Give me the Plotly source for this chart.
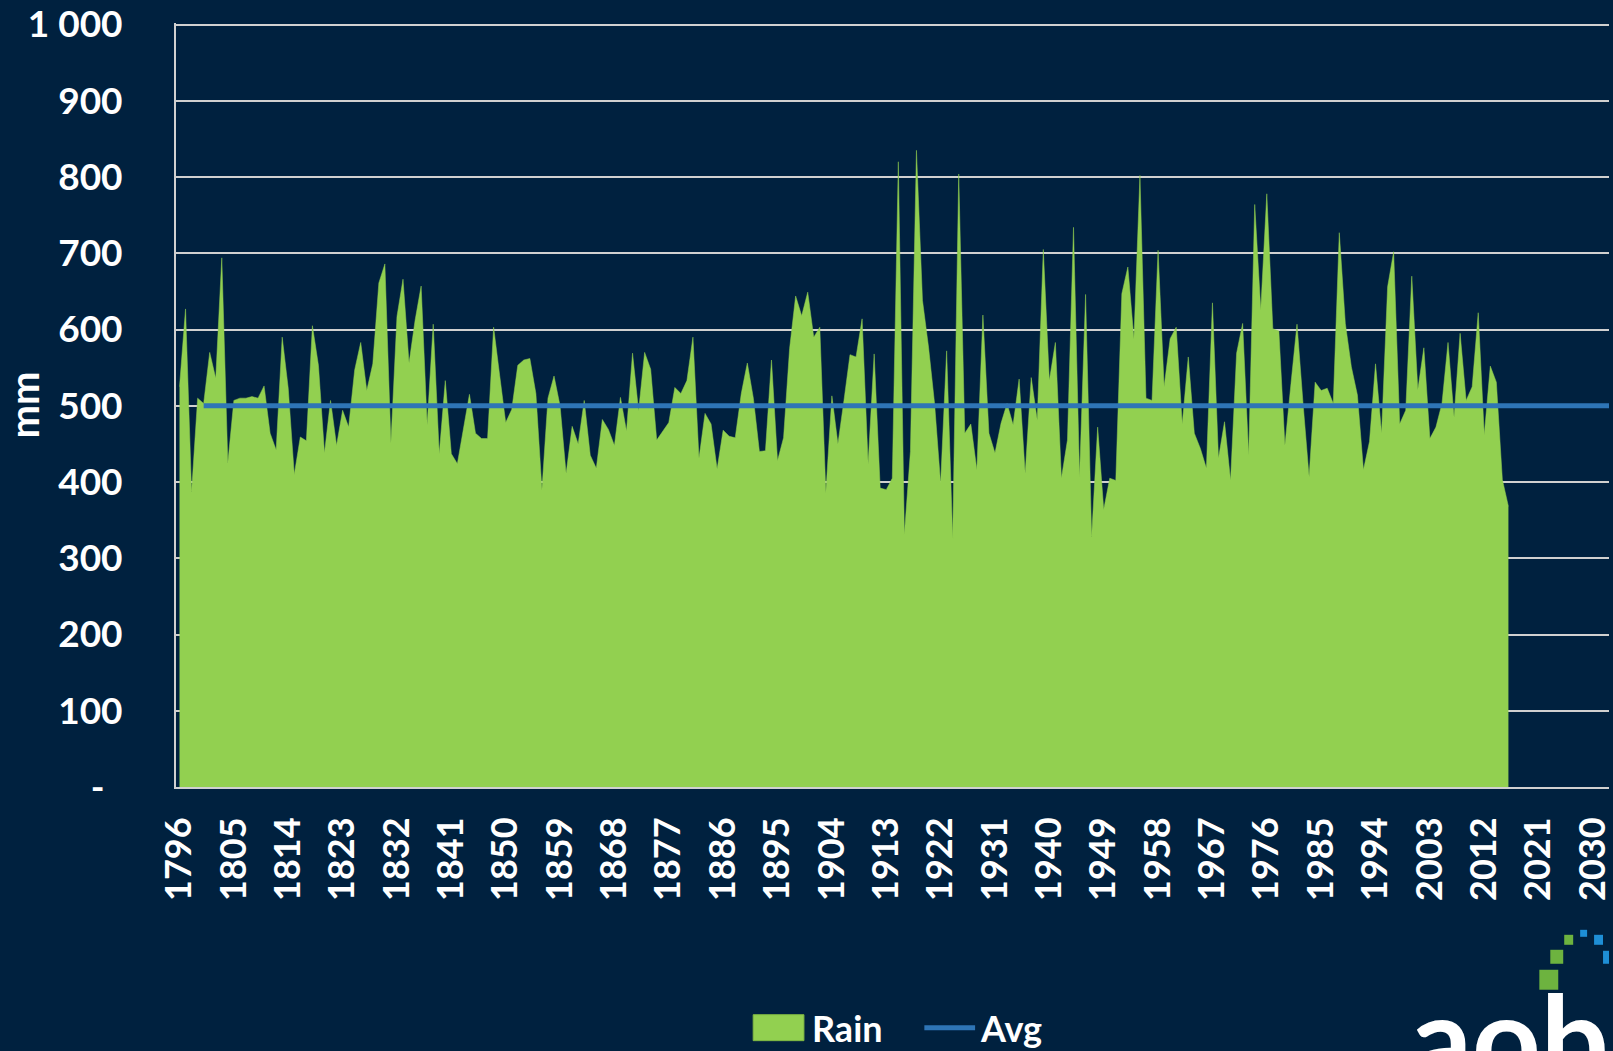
import plotly.graph_objects as go

# ---- data ----
start_year = 1796
rain_mm = [
    525, 627, 387, 510, 503, 570, 536, 694, 425, 507,
    510, 510, 512, 510, 526, 464, 442, 590, 523, 410,
    459, 454, 605, 553, 438, 507, 448, 494, 472, 547,
    583, 520, 555, 661, 686, 451, 617, 666, 556, 612,
    657, 475, 607, 437, 533, 437, 424, 470, 515, 464,
    457, 457, 603, 540, 478, 495, 553, 560, 562, 516,
    390, 510, 539, 500, 411, 473, 450, 507, 435, 418,
    482, 469, 448, 511, 467, 569, 493, 570, 548, 455,
    466, 478, 524, 516, 533, 590, 431, 490, 476, 417,
    468, 460, 458, 516, 556, 510, 440, 441, 560, 428,
    458, 575, 644, 618, 649, 590, 603, 386, 513, 450,
    507, 567, 564, 614, 424, 568, 392, 390, 405, 820,
    331, 440, 835, 638, 577, 503, 398, 572, 326, 804,
    464, 476, 416, 619, 464, 438, 477, 503, 475, 535,
    411, 537, 481, 705, 533, 583, 405, 455, 734, 407,
    646, 328, 472, 364, 405, 402, 647, 682, 588, 802,
    510, 507, 704, 525, 588, 603, 476, 564, 464, 444,
    418, 635, 431, 479, 402, 569, 608, 435, 764, 626,
    778, 601, 598, 448, 529, 607, 503, 407, 531, 520,
    523, 503, 727, 608, 551, 514, 416, 453, 555, 464,
    656, 702, 476, 494, 670, 521, 576, 457, 472, 503,
    583, 485, 595, 507, 525, 622, 462, 552, 531, 403,
    368,
]
rain_years = list(range(start_year, start_year + len(rain_mm)))

avg_value = 500
avg_years = list(range(1800, 2034))
avg_mm = [avg_value] * len(avg_years)

y_tickvals = [0, 100, 200, 300, 400, 500, 600, 700, 800, 900, 1000]
y_ticktext = ["-\u00a0\u00a0", "100", "200", "300", "400", "500", "600", "700", "800", "900", "1 000"]

series_names = ["Rain", "Avg"]

# ---- styling ----
BG = "#00213F"
GREEN = "#92D050"
BLUE = "#2E75B6"
GRID = "#D0D0D0"
FONT = "Lato"

W, H = 1613, 1051
Y_TOP = 1002
L, R, T, B = 173, 0, 22, 264
PW, PH = W - L - R, H - T - B


def px(x):
    return (x - L) / PW


def py(y):
    return (H - B - y) / PH


fig = go.Figure()
fig.add_trace(go.Scatter(
    x=rain_years, y=rain_mm, name=series_names[0], mode="lines",
    fill="tozeroy", fillcolor=GREEN, line=dict(color=GREEN, width=0.5),
    showlegend=False,
))
fig.add_trace(go.Scatter(
    x=avg_years, y=avg_mm, name=series_names[1], mode="lines",
    line=dict(color=BLUE, width=5), showlegend=False,
))

bold36 = dict(family=FONT, size=36, color="white", weight="bold")

fig.update_layout(
    width=W, height=H,
    margin=dict(l=L, r=R, t=T, b=B),
    paper_bgcolor=BG, plot_bgcolor=BG,
    font=dict(family=FONT, color="white", size=36),
    showlegend=False,
    xaxis=dict(
        range=[1795.42, 2032.65], tickmode="linear", tick0=1796, dtick=9,
        tickangle=-90, showgrid=False, zeroline=False,
        showline=True, linecolor=GRID, linewidth=2,
        ticks="", ticklabelstandoff=14, ticklabeloverflow="allow",
        tickfont=bold36,
    ),
    yaxis=dict(
        range=[0, Y_TOP], tickmode="array", tickvals=y_tickvals, ticktext=y_ticktext,
        showgrid=True, gridcolor=GRID, gridwidth=1.5, zeroline=False,
        showline=True, linecolor=GRID, linewidth=2,
        ticks="", ticklabelstandoff=44, ticklabeloverflow="allow",
        tickfont=dict(family=FONT, size=37, color="white", weight="bold"),
        title=dict(text="mm", standoff=0,
                   font=dict(family=FONT, size=40, color="white", weight="bold")),
    ),
)

# ---- legend (drawn below the plot, as in the reference) ----
LEG_Y = 1028
fig.add_shape(type="rect", xref="paper", yref="paper",
              x0=px(753), x1=px(804), y0=py(LEG_Y + 13), y1=py(LEG_Y - 13),
              fillcolor=GREEN, line=dict(color="#7FB842", width=1))
fig.add_annotation(text=series_names[0], xref="paper", yref="paper",
                   x=px(810), y=py(LEG_Y), xanchor="left", yanchor="middle",
                   showarrow=False, font=bold36)
fig.add_shape(type="line", xref="paper", yref="paper",
              x0=px(925), x1=px(976), y0=py(LEG_Y), y1=py(LEG_Y),
              line=dict(color=BLUE, width=5))
fig.add_annotation(text=series_names[1], xref="paper", yref="paper",
                   x=px(979), y=py(LEG_Y), xanchor="left", yanchor="middle",
                   showarrow=False, font=bold36)

# ---- logo decoration (bottom right) ----
logo_boxes = [
    (1543, 970, 1562, 990, "#6DB33F"),
    (1554, 950, 1567, 964, "#6DB33F"),
    (1568, 935, 1577, 945, "#6DB33F"),
    (1584, 930, 1591, 937, "#1E8FD6"),
    (1598, 935, 1607, 945, "#1E8FD6"),
    (1607, 951, 1613, 964, "#1E8FD6"),
]
for x0, y0, x1, y1, c in logo_boxes:
    fig.add_shape(type="rect", xref="paper", yref="paper",
                  x0=px(x0), x1=px(x1), y0=py(y1), y1=py(y0),
                  fillcolor=c, line=dict(width=0), layer="above")

fig.add_annotation(
    text="aob", xref="paper", yref="paper", x=px(1412), y=py(963),
    xanchor="left", yanchor="top", showarrow=False,
    font=dict(family=FONT, size=120, color="white", weight="bold"),
)

fig.write_html(
    "out.html",
    config={"displayModeBar": False},
    post_script="document.body.style.margin='0';document.body.style.overflow='hidden';",
)
